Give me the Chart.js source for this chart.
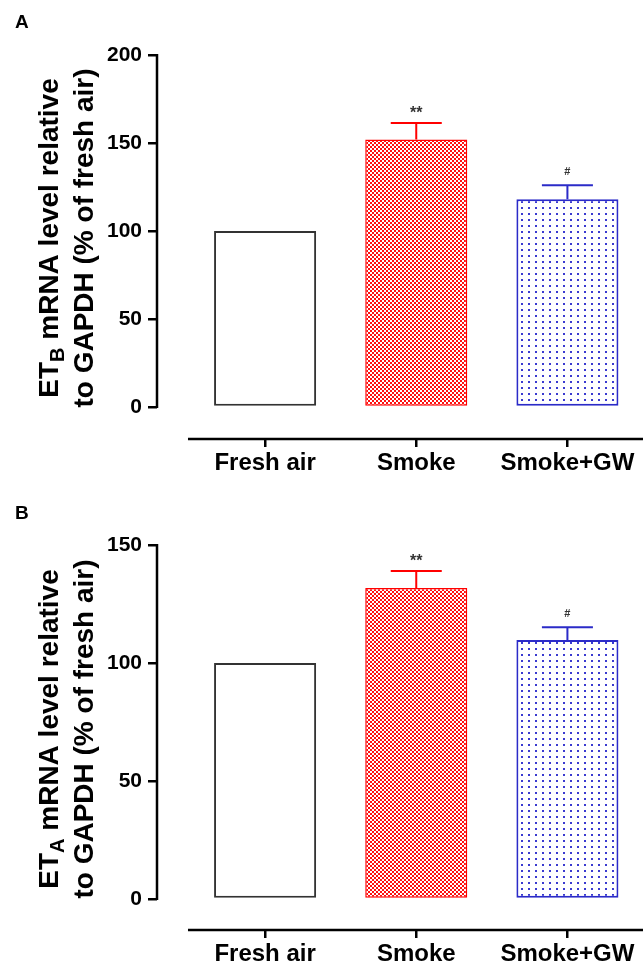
<!DOCTYPE html>
<html lang="en">
<head>
<meta charset="UTF-8">
<title>ETB and ETA mRNA relative to GAPDH</title>
<script src="https://cdn.jsdelivr.net/npm/chart.js"></script>
<style>
  body { margin: 0; background: #fff; }
  canvas { display: block; }
</style>
</head>
<body>
<canvas id="chartA" width="643" height="483"></canvas>
<canvas id="chartB" width="643" height="484"></canvas>

<script>
// data
const groups = ['Fresh air', 'Smoke', 'Smoke+GW'];
const etbMean = [100, 152, 118];
const etbSem = [0, 9.4, 8];
const etaMean = [100, 131.8, 109.7];
const etaSem = [0, 7.2, 5.5];
const marks = ['', '**', '#'];
const ticksA = [0, 50, 100, 150, 200];
const ticksB = [0, 50, 100, 150];

const fam = "'Liberation Sans', Arial, Helvetica, sans-serif";
Chart.defaults.font.family = fam;
Chart.defaults.font.weight = 'bold';
Chart.defaults.color = '#000';

// fill patterns
function checker() {
  const c = document.createElement('canvas');
  c.width = 4; c.height = 4;
  const g = c.getContext('2d');
  g.fillStyle = '#fff'; g.fillRect(0, 0, 4, 4);
  g.fillStyle = '#ff1010';
  g.fillRect(0, 0, 2, 2); g.fillRect(2, 2, 2, 2);
  return g.createPattern(c, 'repeat');
}
function dots() {
  const c = document.createElement('canvas');
  c.width = 7; c.height = 6;
  const g = c.getContext('2d');
  g.fillStyle = '#fff'; g.fillRect(0, 0, 7, 6);
  g.fillStyle = '#3a3ad0';
  g.fillRect(3, 3, 2, 2);
  return g.createPattern(c, 'repeat');
}
const fills = ['#ffffff', checker(), dots()];
const edges = ['#333333', '#ff0000', '#2b2bc8'];
const edgeW = [2, 1.5, 2];
const axisStart = -0.51;

function drawRotated(ctx, cx, cy, parts) {
  ctx.save();
  ctx.translate(cx, cy);
  ctx.rotate(-Math.PI / 2);
  ctx.fillStyle = '#000';
  ctx.textBaseline = 'alphabetic';
  ctx.textAlign = 'left';
  let total = 0;
  parts.forEach(p => {
    ctx.font = 'bold ' + p[1] + 'px ' + fam;
    total += ctx.measureText(p[0]).width;
  });
  let x = -total / 2;
  parts.forEach(p => {
    ctx.font = 'bold ' + p[1] + 'px ' + fam;
    ctx.fillText(p[0], x, p[2] || 0);
    x += ctx.measureText(p[0]).width;
  });
  ctx.restore();
}

const panelPlugin = {
  id: 'panel',
  afterDraw(chart, args, o) {
    const ctx = chart.ctx;
    const xs = chart.scales.x, ys = chart.scales.y;
    const area = chart.chartArea;
    const meta = chart.getDatasetMeta(0);

    // axes lines
    ctx.save();
    ctx.strokeStyle = '#000';
    ctx.lineWidth = 2.5;
    ctx.lineCap = 'butt';
    ctx.beginPath();
    ctx.moveTo(area.left, ys.getPixelForValue(0) + 1);
    ctx.lineTo(area.left, ys.getPixelForValue(ys.max) - 1);
    ctx.stroke();
    ctx.beginPath();
    ctx.moveTo(xs.getPixelForValue(axisStart), area.bottom);
    ctx.lineTo(area.right, area.bottom);
    ctx.stroke();
    ctx.restore();

    // error bars and marks
    o.means.forEach((m, i) => {
      const sem = o.sems[i];
      const x = xs.getPixelForValue(i);
      if (sem > 0) {
        const y0 = ys.getPixelForValue(m);
        const y1 = ys.getPixelForValue(m + sem);
        const half = meta.data[i].width / 4;
        ctx.save();
        ctx.strokeStyle = edges[i];
        ctx.lineWidth = 2;
        ctx.beginPath();
        ctx.moveTo(x, y0);
        ctx.lineTo(x, y1);
        ctx.moveTo(x - half, y1);
        ctx.lineTo(x + half, y1);
        ctx.stroke();
        ctx.fillStyle = '#333';
        ctx.textAlign = 'center';
        ctx.textBaseline = 'alphabetic';
        if (marks[i] === '**') {
          ctx.font = 'bold 16px ' + fam;
          ctx.fillText(marks[i], x, y1 - 5);
        } else if (marks[i]) {
          ctx.font = 'bold 11px ' + fam;
          ctx.fillText(marks[i], x, y1 - 10);
        }
        ctx.restore();
      }
    });

    // panel letter
    ctx.save();
    ctx.fillStyle = '#000';
    ctx.font = 'bold 19px ' + fam;
    ctx.textAlign = 'left';
    ctx.textBaseline = 'alphabetic';
    ctx.fillText(o.letter, 15, o.letterY);
    ctx.restore();

    // y title with subscript
    const cy = (ys.getPixelForValue(0) + ys.getPixelForValue(ys.max)) / 2 + 7;
    drawRotated(ctx, 58, cy, [['ET', 28], [o.sub, 20, 6], [' mRNA level relative', 28]]);
    drawRotated(ctx, 93, cy, [['to GAPDH (% of fresh air)', 28]]);
  }
};

function makePanel(id, letter, letterY, sub, means, sems, yTicks, yMin, yMax, padTop, xHeight) {
  return new Chart(document.getElementById(id), {
    type: 'bar',
    data: {
      datasets: [{
        data: groups.map((g, i) => ({ x: i, y: means[i] })),
        backgroundColor: fills,
        borderColor: edges,
        borderWidth: edgeW,
        borderSkipped: false,
        barPercentage: 0.675,
        categoryPercentage: 1
      }]
    },
    options: {
      responsive: false,
      animation: false,
      layout: { padding: { top: padTop, left: 0, right: 0, bottom: 0 } },
      plugins: {
        legend: { display: false },
        tooltip: { enabled: false },
        panel: { letter: letter, letterY: letterY, sub: sub, means: means, sems: sems }
      },
      scales: {
        x: {
          type: 'linear',
          min: -0.715,
          max: 2.5,
          bounds: 'data',
          offset: false,
          afterBuildTicks: s => { s.ticks = groups.map((g, i) => ({ value: i })); },
          afterFit: s => { s.height = xHeight; },
          ticks: {
            callback: v => groups[v],
            font: { size: 24, weight: 'bold' },
            color: '#000',
            padding: 2,
            maxRotation: 0,
            autoSkip: false
          },
          grid: { offset: false, drawOnChartArea: false, drawTicks: true, tickLength: 8, color: '#000', lineWidth: 2.5 },
          border: { display: false }
        },
        y: {
          min: yMin,
          max: yMax,
          bounds: 'data',
          afterBuildTicks: s => { s.ticks = yTicks.map(v => ({ value: v })); },
          afterFit: s => { s.width = 157; },
          ticks: {
            font: { size: 21, weight: 'bold' },
            color: '#000',
            padding: 6
          },
          grid: { drawOnChartArea: false, drawTicks: true, tickLength: 9, color: '#000', lineWidth: 2.5 },
          border: { display: false }
        }
      }
    },
    plugins: [panelPlugin]
  });
}

makePanel('chartA', 'A', 28, 'B', etbMean, etbSem, ticksA, -18.18, 200, 55, 44);
makePanel('chartB', 'B', 36, 'A', etaMean, etaSem, ticksB, -13.14, 150, 62, 37);
</script>
</body>
</html>
